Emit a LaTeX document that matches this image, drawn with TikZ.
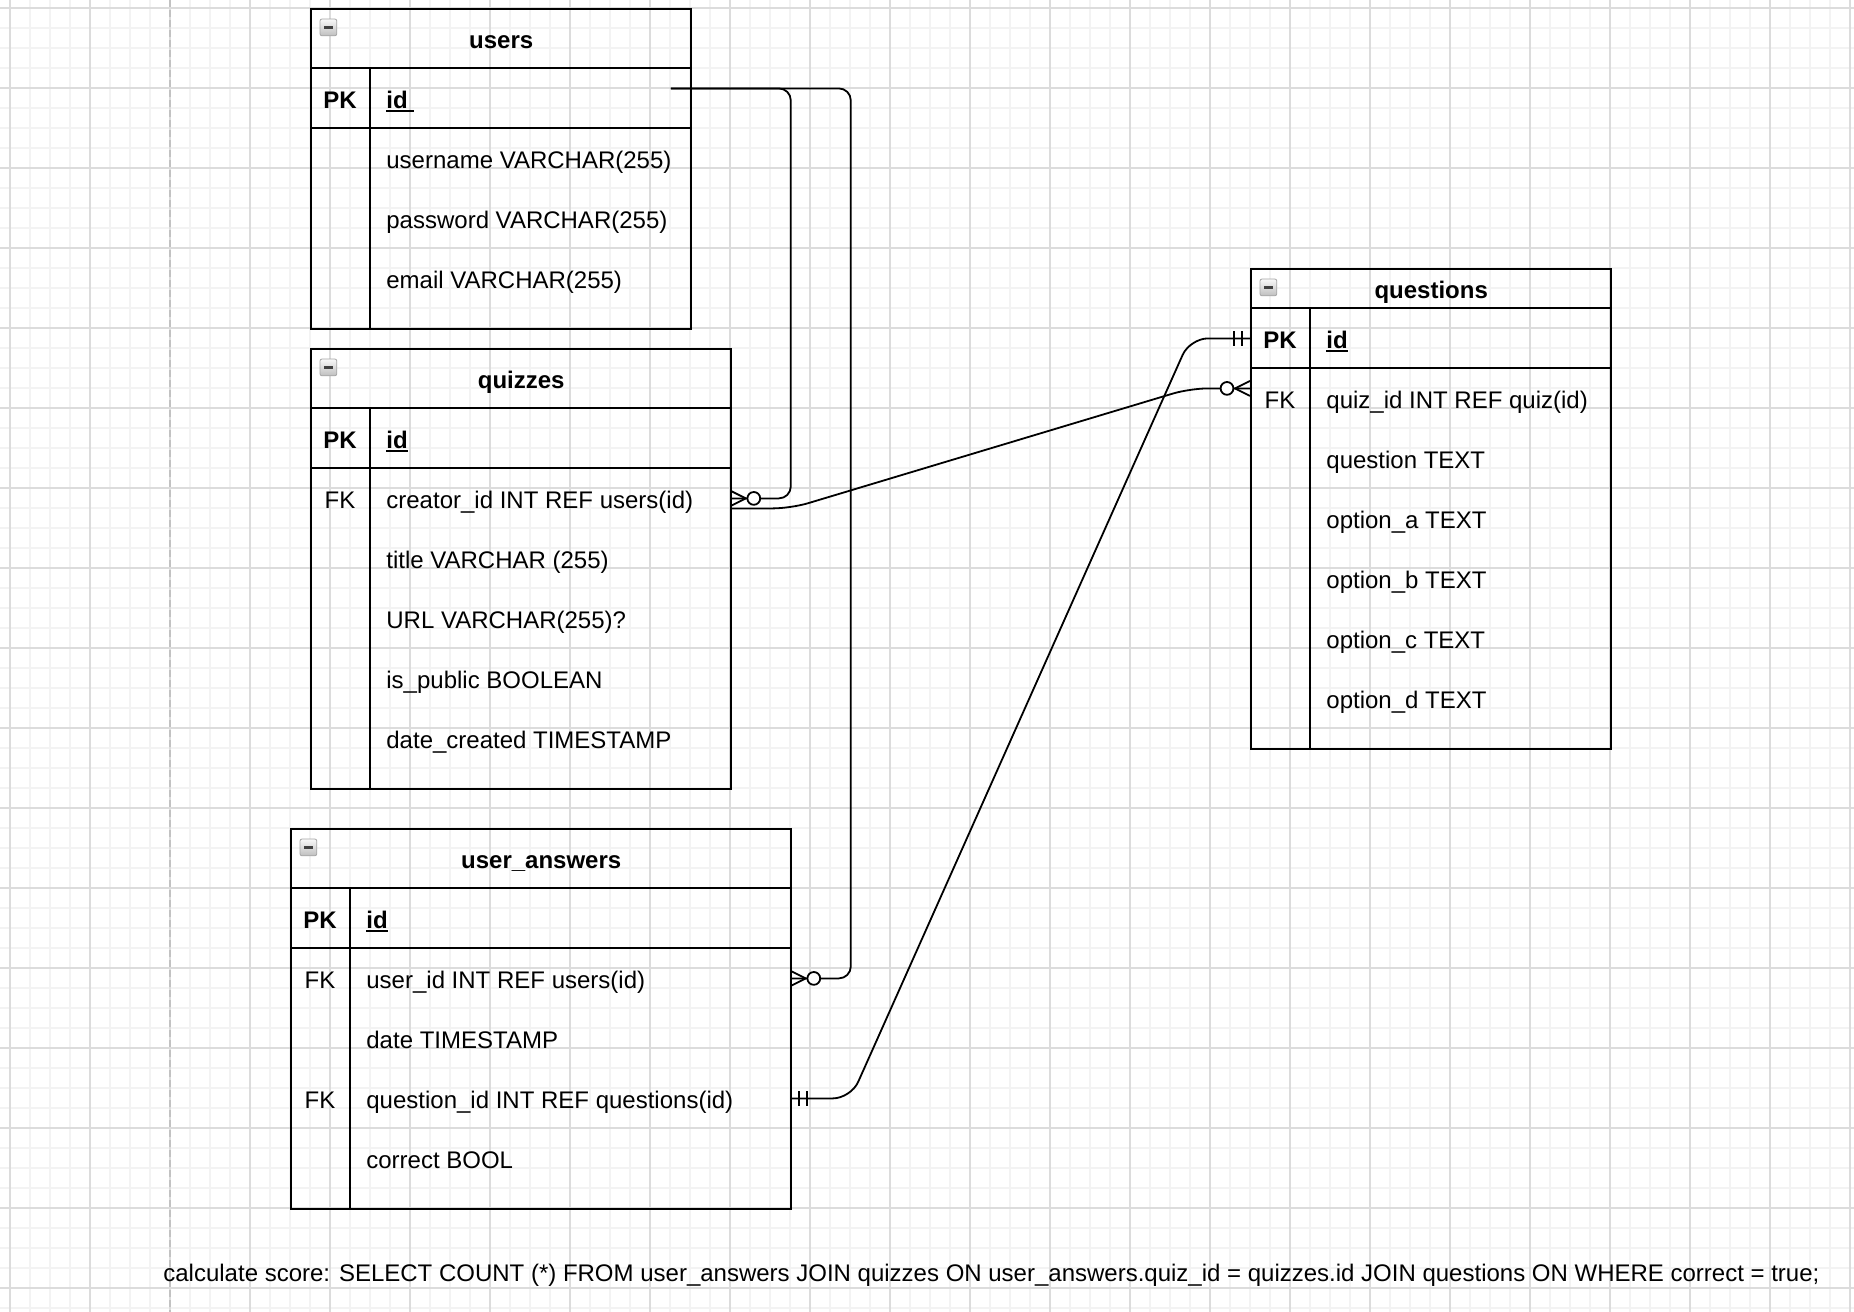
\documentclass[tikz,border=0pt]{standalone}
\usepackage{fontspec}
\setmainfont{Liberation Sans}
\usetikzlibrary{calc}

\definecolor{gridminor}{HTML}{F3F3F3}
\definecolor{gridmajor}{HTML}{DCDCDC}
\definecolor{pageline}{HTML}{C2C2C2}

% underlined key field name with a slightly heavier rule
\newlength\ulwidth
\newcommand\keyfield[1]{\settowidth\ulwidth{#1}#1\llap{\rule[-1.7pt]{\ulwidth}{0.9pt}}}

% one row of an entity: #1 table, #2 row id, #3 offset from table top,
% #4 table width, #5 key label (may be empty), #6 field text
\newcommand\erow[6]{%
  \node[rowbox, minimum width=#4pt] (#1-#2) at ($(#1.north west)+(0,#3)$) {};
  \if\relax\detokenize{#5}\relax\else
    \node[keytext] (#1-#2-key) at ($(#1-#2.west)+(15,5.2)$) {#5};
  \fi
  \node[fieldtext] (#1-#2-field) at ($(#1-#2.west)+(38,5.2)$) {#6};
}

% entity frame: #1 name, #2 left, #3 top, #4 width, #5 height, #6 header height, #7 title
\newcommand\erframe[7]{%
  \node[entity, minimum width=#4pt, minimum height=#5pt] (#1) at (#2,#3) {};
  \draw[sep] ($(#1.north west)+(0,#6)$) -- ++(#4,0)
             ($(#1.north west)+(0,#6+30)$) -- ++(#4,0)
             ($(#1.north west)+(30,#6)$) -- ($(#1.south west)+(30,0)$);
  \node[collapse] (#1-icon) at ($(#1.north west)+(4.8,5.3)$) {\color{black!75}\rule{4.2pt}{1.3pt}};
  \node[titletext] (#1-title) at ($(#1.north)+(0,#6/2+5.4)$) {#7};
}

\begin{document}
\begin{tikzpicture}[x=1pt,y=-1pt,
  entity/.style={draw=black, line width=1.2pt, inner sep=0pt, anchor=north west},
  sep/.style={line width=1.2pt, black},
  rowbox/.style={inner sep=0pt, minimum height=30pt, anchor=north west},
  fieldtext/.style={font=\fontsize{12}{14}\selectfont, inner sep=0pt, anchor=base west},
  keytext/.style={font=\fontsize{12}{14}\selectfont, inner sep=0pt, anchor=base},
  titletext/.style={font=\fontsize{12}{14}\selectfont\bfseries, inner sep=0pt, anchor=base},
  collapse/.style={draw=gray!70, top color=gray!5, bottom color=gray!50, minimum size=8.4pt,
    inner sep=0pt, rounded corners=1pt, anchor=north west},
  rel/.style={line width=0.9pt, black},
  zeromany/.pic={
    \draw[rel] (0pt,3.75pt) -- (7.5pt,0pt) -- (0pt,-3.75pt);
    \draw[rel] (0pt,0pt) -- (8.3pt,0pt);
    \draw[rel, fill=white] (11.5pt,0pt) circle[radius=3.2pt];
  },
  mandone/.pic={
    \draw[rel] (4pt,-3.75pt) -- (4pt,3.75pt) (8pt,-3.75pt) -- (8pt,3.75pt);
  }
]

% canvas and grid
\fill[white] (0,0) rectangle (927,656);
\useasboundingbox (0,0) rectangle (927,656);
\foreach \gx in {5,15,...,925} \draw[gridminor, line width=0.7pt] (\gx,0) -- (\gx,656);
\foreach \gy in {4,14,...,654} \draw[gridminor, line width=0.7pt] (0,\gy) -- (927,\gy);
\foreach \gx in {5,45,...,925} \draw[gridmajor, line width=0.7pt] (\gx,0) -- (\gx,656);
\foreach \gy in {4,44,...,644} \draw[gridmajor, line width=0.7pt] (0,\gy) -- (927,\gy);
\draw[pageline, line width=1pt, dash pattern=on 3.3pt off 1.7pt] (85,0) -- (85,656);

% users
\erframe{users}{155}{4}{190}{160}{30}{users}
\erow{users}{id}{30}{190}{\bfseries PK}{\keyfield{\bfseries id\ }}
\erow{users}{name}{60}{190}{}{username VARCHAR(255)}
\erow{users}{password}{90}{190}{}{password VARCHAR(255)}
\erow{users}{email}{120}{190}{}{email VARCHAR(255)}

% quizzes
\erframe{quizzes}{155}{174}{210}{220}{30}{quizzes}
\erow{quizzes}{id}{30}{210}{\bfseries PK}{\keyfield{\bfseries id}}
\erow{quizzes}{creator}{60}{210}{FK}{creator\_id INT REF users(id)}
\erow{quizzes}{title}{90}{210}{}{title VARCHAR (255)}
\erow{quizzes}{url}{120}{210}{}{URL VARCHAR(255)?}
\erow{quizzes}{public}{150}{210}{}{is\_public BOOLEAN}
\erow{quizzes}{created}{180}{210}{}{date\_created TIMESTAMP}

% user_answers
\erframe{answers}{145}{414}{250}{190}{30}{user\_answers}
\erow{answers}{id}{30}{250}{\bfseries PK}{\keyfield{\bfseries id}}
\erow{answers}{user}{60}{250}{FK}{user\_id INT REF users(id)}
\erow{answers}{date}{90}{250}{}{date TIMESTAMP}
\erow{answers}{question}{120}{250}{FK}{question\_id INT REF questions(id)}
\erow{answers}{correct}{150}{250}{}{correct BOOL}

% questions
\erframe{questions}{625}{134}{180}{240}{20}{questions}
\erow{questions}{id}{20}{180}{\bfseries PK}{\keyfield{\bfseries id}}
\erow{questions}{quiz}{50}{180}{FK}{quiz\_id INT REF quiz(id)}
\erow{questions}{text}{80}{180}{}{question TEXT}
\erow{questions}{a}{110}{180}{}{option\_a TEXT}
\erow{questions}{b}{140}{180}{}{option\_b TEXT}
\erow{questions}{c}{170}{180}{}{option\_c TEXT}
\erow{questions}{d}{200}{180}{}{option\_d TEXT}

% relationships
\coordinate (users-src) at ($(users-id.east)+(-10,-5)$);
\draw[rel, rounded corners=6pt] (users-src) -| ($(quizzes-creator.east)+(30,0)$) -- (quizzes-creator.east);
\draw[rel, rounded corners=6pt] (users-src) -| ($(answers-user.east)+(30,0)$) -- (answers-user.east);
\draw[rel, rounded corners=9pt] ($(quizzes-creator.east)+(0,5)$) -- ++(30,0)
  -- ($(questions-quiz.west)+(-30,-5)$) -- ($(questions-quiz.west)+(0,-5)$);
\draw[rel, rounded corners=9pt] (answers-question.east) -- ++(30,0)
  -- ($(questions-id.west)+(-30,0)$) -- (questions-id.west);

\pic at (quizzes-creator.east) {zeromany};
\pic at (answers-user.east) {zeromany};
\pic[xscale=-1] at ($(questions-quiz.west)+(0,-5)$) {zeromany};
\pic at (answers-question.east) {mandone};
\pic[xscale=-1] at (questions-id.west) {mandone};

% query note
\node[fieldtext] (score-query) at (81.5,640.5) {calculate score: SELECT COUNT (*) FROM user\_answers JOIN quizzes ON user\_answers.quiz\_id = quizzes.id JOIN questions ON WHERE correct = true;};

\end{tikzpicture}
\end{document}
